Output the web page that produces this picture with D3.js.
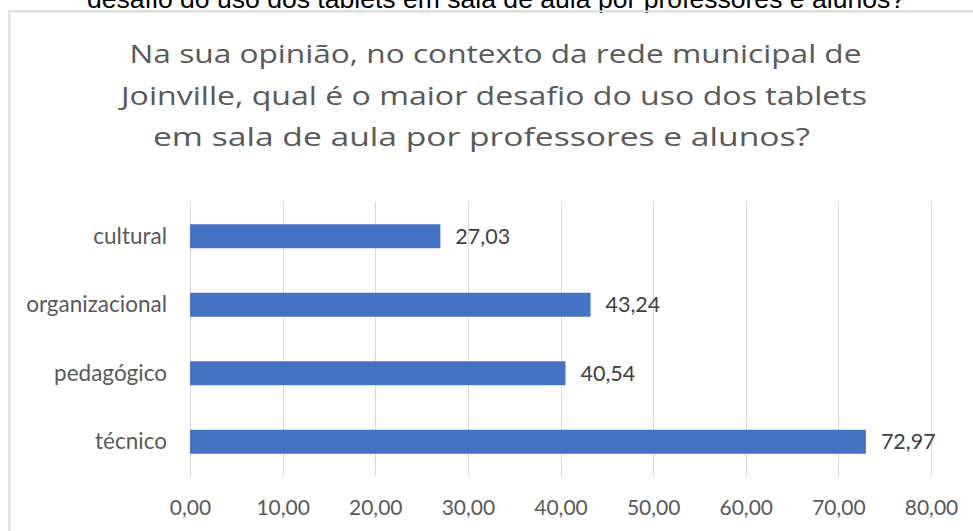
<!DOCTYPE html>
<html>
<head>
<meta charset="utf-8">
<script src="https://cdn.jsdelivr.net/npm/d3@7"></script>
<style>
  html, body { margin: 0; padding: 0; background: #ffffff; overflow: hidden; }
  svg { display: block; }
</style>
</head>
<body>
<svg id="chart" width="973" height="531"></svg>
<script>
// Survey answers: share of respondents (%) naming each challenge
const categories = ["cultural", "organizacional", "pedagógico", "técnico"];
const values = [27.03, 43.24, 40.54, 72.97];
const xTicks = [0, 10, 20, 30, 40, 50, 60, 70, 80];
const titleLines = [
  "Na sua opinião, no contexto da rede municipal de",
  "Joinville, qual é o maior desafio do uso dos tablets",
  "em sala de aula por professores e alunos?"
];
const captionTail = "desafio do uso dos tablets em sala de aula por professores e alunos?";

const W = 973, H = 531;
const svg = d3.select("#chart");
const ptBR = d3.formatLocale({ decimal: ",", thousands: ".", grouping: [3], currency: ["R$", ""] });
const fmt = ptBR.format(".2f");
const font = "Lato, 'Open Sans', sans-serif";

// Caption line running above the chart frame
svg.append("text")
  .attr("x", 496).attr("y", 7.5)
  .attr("text-anchor", "middle")
  .attr("font-family", "'Liberation Sans', Arial, sans-serif")
  .attr("font-size", 25)
  .attr("fill", "#000")
  .attr("textLength", 818)
  .attr("lengthAdjust", "spacingAndGlyphs")
  .text(captionTail);

// Chart frame
svg.append("rect")
  .attr("x", 9.3).attr("y", 11.3)
  .attr("width", W + 20).attr("height", H + 20)
  .attr("fill", "none")
  .attr("stroke", "#d9d9d9")
  .attr("stroke-width", 2);

// Title
const titleGeom = [
  { cx: 495.5, y: 63, w: 732 },
  { cx: 494, y: 104.5, w: 746 },
  { cx: 481.5, y: 146, w: 657 }
];
svg.append("g").selectAll("text")
  .data(titleLines)
  .join("text")
  .attr("x", (d, i) => titleGeom[i].cx)
  .attr("y", (d, i) => titleGeom[i].y)
  .attr("text-anchor", "middle")
  .attr("font-family", "'Open Sans', Lato, sans-serif")
  .attr("font-size", 25.5)
  .attr("fill", "#595959")
  .attr("textLength", (d, i) => titleGeom[i].w)
  .attr("lengthAdjust", "spacingAndGlyphs")
  .text(d => d);

// Scales
const x = d3.scaleLinear().domain([0, 80]).range([190, 931]);
const y = d3.scaleBand().domain(categories).range([202, 476])
  .paddingInner(0.65).paddingOuter(0.325);

// Vertical gridlines
svg.append("g")
  .selectAll("line")
  .data(xTicks)
  .join("line")
  .attr("x1", d => Math.round(x(d)) + 0.5)
  .attr("x2", d => Math.round(x(d)) + 0.5)
  .attr("y1", 202).attr("y2", 476)
  .attr("stroke", "#d9d9d9")
  .attr("stroke-width", 1);

// X axis labels
const xAxis = d3.axisBottom(x).tickValues(xTicks).tickFormat(fmt).tickSize(0).tickPadding(0);
const gx = svg.append("g").attr("transform", "translate(0,500)").call(xAxis);
gx.select(".domain").remove();
gx.selectAll("text")
  .attr("font-family", font)
  .attr("font-size", 21)
  .attr("fill", "#595959")
  .attr("dy", "0.71em")
  .attr("y", 0);

// Y axis category labels
const yAxis = d3.axisLeft(y).tickSize(0).tickPadding(23);
const gy = svg.append("g").attr("transform", "translate(190,0)").call(yAxis);
gy.select(".domain").remove();
gy.selectAll("text")
  .attr("font-family", font)
  .attr("font-size", 22.5)
  .attr("fill", "#595959")
  .attr("dy", "0.34em");

// Bars
const data = categories.map((c, i) => ({ c, v: values[i] }));
svg.append("g")
  .selectAll("rect")
  .data(data)
  .join("rect")
  .attr("x", x(0))
  .attr("y", d => y(d.c))
  .attr("width", d => x(d.v) - x(0))
  .attr("height", y.bandwidth())
  .attr("fill", "#4472c4");

// Value labels
svg.append("g")
  .selectAll("text")
  .data(data)
  .join("text")
  .attr("x", d => x(d.v) + 15)
  .attr("y", d => y(d.c) + y.bandwidth() / 2)
  .attr("dy", "0.36em")
  .attr("font-family", font)
  .attr("font-size", 21.5)
  .attr("fill", "#404040")
  .text(d => fmt(d.v));
</script>
</body>
</html>
